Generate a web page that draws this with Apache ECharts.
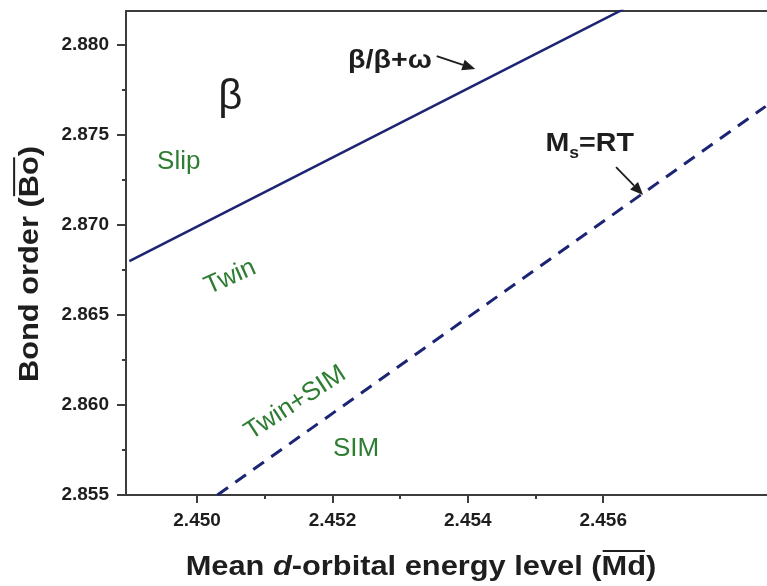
<!DOCTYPE html>
<html>
<head>
<meta charset="utf-8">
<script src="https://cdn.jsdelivr.net/npm/echarts@6/dist/echarts.min.js"></script>
<style>
  html, body { margin: 0; padding: 0; background: #ffffff; }
  #chart { width: 767px; height: 586px; }
</style>
</head>
<body>
<div id="chart"></div>
<script>
// Phase-boundary lines in the bond order (Bo) vs. d-orbital energy level (Md) plane
const boundaryMd = [2.4490, 2.4563];   // β / β+ω boundary
const boundaryBo = [2.8680, 2.8820];
const msMd = [2.4503, 2.4584];         // Ms = RT line
const msBo = [2.8550, 2.8766];

// axis extents and tick values
const xRange = [2.44895, 2.45842];
const yRange = [2.855, 2.8819];
const xMajorTicks = [2.450, 2.452, 2.454, 2.456];
const xMinorTicks = [2.451, 2.453, 2.455];
const yMajorTicks = [2.855, 2.860, 2.865, 2.870, 2.875, 2.880];
const yMinorTicks = [2.8575, 2.8625, 2.8675, 2.8725, 2.8775];

// deformation-mode labels: text, Md, Bo, rotation (deg)
const regionText = ['Slip', 'Twin', 'Twin+SIM', 'SIM'];
const regionMd   = [2.44973, 2.45049, 2.45145, 2.45235];
const regionBo   = [2.87350, 2.86711, 2.86011, 2.85756];
const regionRot  = [0, 24, 33, 0];

// phase label and arrowed line labels (Md, Bo)
const betaAt = [2.45049, 2.87711];
const boundaryLabelAt = [2.45285, 2.87911];
const boundaryArrow = [[2.45354, 2.87939], [2.45411, 2.87867]];
const msLabelAt = [2.45580, 2.87450];
const msArrow = [[2.45619, 2.87322], [2.45659, 2.87167]];

const FONT = '"Liberation Sans", Arial, sans-serif';
const NAVY = '#1b2573';
const GREEN = '#2e7d32';
const AXIS = '#3c3c3c';
const INK = '#1e1e1e';

const zip = (a, b) => a.map((v, i) => [v, b[i]]);
const fmt = v => Number(v).toFixed(3);

const chart = echarts.init(document.getElementById('chart'), null, { renderer: 'canvas' });

function valueAxis(range, extra) {
  return Object.assign({
    type: 'value',
    min: range[0],
    max: range[1],
    scale: true,
    splitLine: { show: false },
    axisLine: { show: false, onZero: false },
    axisTick: { show: false },
    axisLabel: { show: false }
  }, extra);
}

const tickLabel = {
  formatter: fmt,
  fontFamily: FONT,
  fontWeight: 'bold',
  fontSize: 19,
  color: INK
};

chart.setOption({
  animation: false,
  backgroundColor: '#ffffff',
  grid: { left: 126, right: 0, top: 11, bottom: 91, containLabel: false },
  xAxis: [
    valueAxis(xRange, {
      position: 'bottom',
      axisLine: { show: true, onZero: false, lineStyle: { color: AXIS, width: 2 } },
      axisTick: { show: true, customValues: xMajorTicks, length: 8, lineStyle: { color: AXIS, width: 2 } },
      axisLabel: Object.assign({ show: true, customValues: xMajorTicks, margin: 16 }, tickLabel)
    }),
    valueAxis(xRange, {
      position: 'bottom',
      axisTick: { show: true, customValues: xMinorTicks, length: 4, lineStyle: { color: AXIS, width: 2 } }
    }),
    valueAxis(xRange, {
      position: 'top',
      axisLine: { show: true, onZero: false, lineStyle: { color: AXIS, width: 2 } }
    })
  ],
  yAxis: [
    valueAxis(yRange, {
      position: 'left',
      axisLine: { show: true, onZero: false, lineStyle: { color: AXIS, width: 2 } },
      axisTick: { show: true, customValues: yMajorTicks, length: 9, lineStyle: { color: AXIS, width: 2 } },
      axisLabel: Object.assign({ show: true, customValues: yMajorTicks, margin: 17 }, tickLabel)
    }),
    valueAxis(yRange, {
      position: 'left',
      axisTick: { show: true, customValues: yMinorTicks, length: 4, lineStyle: { color: AXIS, width: 2 } }
    })
  ],
  series: [
    {
      name: 'β/β+ω',
      type: 'line',
      xAxisIndex: 0,
      yAxisIndex: 0,
      data: zip(boundaryMd, boundaryBo),
      symbol: 'none',
      clip: true,
      lineStyle: { color: NAVY, width: 2.6 }
    },
    {
      name: 'Ms=RT',
      type: 'line',
      xAxisIndex: 0,
      yAxisIndex: 0,
      data: zip(msMd, msBo),
      symbol: 'none',
      clip: true,
      lineStyle: { color: NAVY, width: 3, type: [13, 9] }
    }
  ]
});

// ---- text layout helpers -------------------------------------------------
const mctx = document.createElement('canvas').getContext('2d');
function fontOf(s) {
  return (s.style || 'normal') + ' ' + (s.weight || 'normal') + ' ' + s.size + 'px ' + FONT;
}
function measure(text, s) {
  mctx.font = fontOf(s);
  return mctx.measureText(text).width;
}

// Lays out text runs side by side, centred on the group origin.
// A run flagged `over` gets an overline; `dy` shifts a run down (subscripts).
function runs(segs, opts) {
  const widths = segs.map(s => measure(s.text, s));
  const total = widths.reduce((a, b) => a + b, 0);
  let x = -total / 2;
  const children = [];
  segs.forEach((s, i) => {
    const st = {
      text: s.text,
      fontSize: s.size,
      fontWeight: s.weight || 'normal',
      fontStyle: s.style || 'normal',
      fontFamily: FONT,
      fill: opts.color,
      align: 'left',
      verticalAlign: 'middle',
      textAlign: 'left',
      textVerticalAlign: 'middle'
    };
    children.push({ type: 'text', x: x, y: s.dy || 0, style: st, silent: true });
    if (s.over) {
      const oy = -s.size * 0.46 - 3;
      children.push({
        type: 'line',
        shape: { x1: x + 1, y1: oy, x2: x + widths[i] - 1, y2: oy },
        style: { stroke: opts.color, lineWidth: 2 },
        silent: true
      });
    }
    x += widths[i];
  });
  return {
    type: 'group',
    x: opts.x,
    y: opts.y,
    scaleX: opts.scaleX || 1,
    rotation: (opts.rotation || 0) * Math.PI / 180,
    children: children,
    silent: true
  };
}

function toPx(p) {
  return chart.convertToPixel({ xAxisIndex: 0, yAxisIndex: 0 }, p);
}

function arrow(from, to, color) {
  const a = toPx(from), b = toPx(to);
  const ang = Math.atan2(b[1] - a[1], b[0] - a[0]);
  const len = 13, half = 5.5;
  const bx = b[0] - len * Math.cos(ang), by = b[1] - len * Math.sin(ang);
  const nx = -Math.sin(ang) * half, ny = Math.cos(ang) * half;
  return [
    { type: 'line', shape: { x1: a[0], y1: a[1], x2: bx, y2: by }, style: { stroke: color, lineWidth: 1.8 }, silent: true },
    { type: 'polygon', shape: { points: [[b[0], b[1]], [bx + nx, by + ny], [bx - nx, by - ny]] }, style: { fill: color }, silent: true }
  ];
}

const g = [];
const TITLE = 28;
const WIDE = 1.1;

// axis titles
g.push(runs([
  { text: 'Mean ', size: TITLE, weight: 'bold' },
  { text: 'd', size: TITLE, weight: 'bold', style: 'italic' },
  { text: '-orbital energy level (', size: TITLE, weight: 'bold' },
  { text: 'Md', size: TITLE, weight: 'bold', over: true },
  { text: ')', size: TITLE, weight: 'bold' }
], { x: 421, y: 567, scaleX: WIDE, color: INK }));

g.push(runs([
  { text: 'Bond order (', size: TITLE, weight: 'bold' },
  { text: 'Bo', size: TITLE, weight: 'bold', over: true },
  { text: ')', size: TITLE, weight: 'bold' }
], { x: 30, y: 264, rotation: 90, scaleX: WIDE, color: INK }));

// phase label
const bp = toPx(betaAt);
g.push(runs([{ text: 'β', size: 42 }], { x: bp[0], y: bp[1], color: INK }));

// deformation-mode labels
regionText.forEach((t, i) => {
  const p = toPx([regionMd[i], regionBo[i]]);
  g.push(runs([{ text: t, size: 26 }], { x: p[0], y: p[1], rotation: regionRot[i], color: GREEN }));
});

// β/β+ω label with arrow
const lp = toPx(boundaryLabelAt);
g.push(runs([{ text: 'β/β+ω', size: 26, weight: 'bold' }], { x: lp[0], y: lp[1], scaleX: WIDE, color: INK }));
arrow(boundaryArrow[0], boundaryArrow[1], INK).forEach(e => g.push(e));

// Ms = RT label with arrow
const mp = toPx(msLabelAt);
g.push(runs([
  { text: 'M', size: 26, weight: 'bold' },
  { text: 's', size: 16, weight: 'bold', dy: 9 },
  { text: '=RT', size: 26, weight: 'bold' }
], { x: mp[0], y: mp[1], scaleX: WIDE, color: INK }));
arrow(msArrow[0], msArrow[1], INK).forEach(e => g.push(e));

chart.setOption({ graphic: { elements: g } });
</script>
</body>
</html>
